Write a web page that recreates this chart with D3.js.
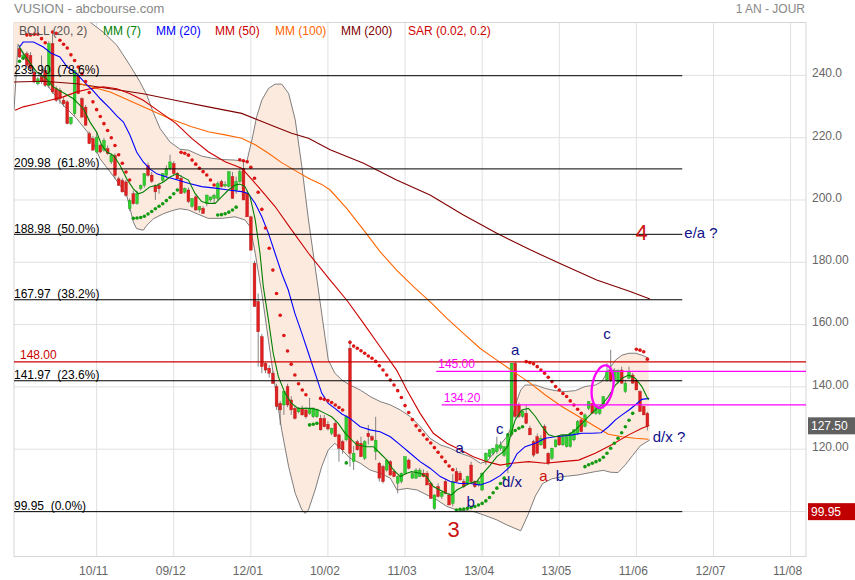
<!DOCTYPE html>
<html>
<head>
<meta charset="utf-8">
<script src="https://d3js.org/d3.v7.min.js"></script>
<style>
  body { margin: 0; background: #fff; }
  svg { font-family: "Liberation Sans", Arial, sans-serif; }
</style>
</head>
<body>
<svg width="855" height="580"></svg>
<script>
// daily bars, [open, high, low, close]
const ohlc = [
  [248.6,249.7,245.6,245.9],[245.4,247,245,246.4],[247,247.7,242.7,243.2],[246.4,247.5,241,242.2],
  [241.1,242,237.5,237.9],[237.3,239.5,236.8,238.9],[239.5,246.4,237.3,238],[241.6,242.5,236.3,236.8],
  [236.8,251,236,250.2],[250.2,253.9,234.1,234.7],[235.7,236.5,231.5,232],[235.2,236,230.9,232.5],
  [232,233,230,230.9],[231.5,232,224.3,224.5],[224.5,226.6,224,226.6],[227.7,241.6,227,241.6],
  [240,241,234,234.1],[232.5,233,226.6,226.6],[229.8,230.5,224,224],[221.3,222,218,218.1],
  [219.7,220.5,216,216],[215.4,222,215,220.2],[217.6,218,215,215.4],[216,220,215.5,219.1],
  [216.5,217.5,214.5,214.9],[212.2,215,211.5,214.3],[214.3,215,206.8,207.9],[206.8,207.5,204.5,204.7],
  [206.3,207,202.4,202.6],[205.8,206.5,201,201.5],[197.2,200.5,196.5,199.9],[202,203,198.5,198.8],
  [198.8,203,198.5,202],[203.6,205,203,204.7],[204.7,208.5,204,208.5],[211.1,212,207.5,207.9],
  [208,209,205.5,206],[204.7,205,200,202.6],[204.7,205.5,202,203.6],[206.3,208.5,205.5,208.5],
  [207.9,211.1,207,210.1],[210,214.5,209.5,212.2],[211.7,212.5,208,208.5],[208.6,209,206.5,206.8],
  [207,208,202,202.1],[202.5,204,202,203.7],[203.2,204,199,199.5],[197.9,200.5,197.5,200.5],
  [201,201.5,196.5,196.8],[196.8,197.9,196,197.9],[197.3,198,195.5,195.7],[198.9,201.6,198,201.6],
  [200,201,199.5,201],[200.5,202,199,201.5],[200.5,206,200,205.3],[205.9,206.5,204,204.3],
  [204.5,206,204,205],[204.3,209.1,204,209.1],[207.5,209,200.5,200.5],[203,207.5,202,205.9],
  [205.9,210,205.5,209.1],[210.2,212.8,200,200],[202.1,203,194.6,194.6],[194.6,195,183.9,183.9],
  [179.7,180.5,165.8,165.8],[167.4,170,146.5,157.7],[156.1,157,144.4,146.5],[147.6,148,144.4,145.4],
  [146,147,143,144.4],[144.4,145,141,141.1],[140.1,141,132.6,133.7],[134.7,135.5,127.8,132.6],
  [134.2,138.5,131,138.5],[140.1,141,133.5,134.2],[135.8,137,131,132.6],[133.1,134,129.5,129.9],
  [132,133.5,131.5,133.1],[133.1,134,130.8,131],[132.6,133.5,129.8,130.4],[131.5,136.5,131,133],
  [130.4,133.5,130,133.1],[130.4,133,130,132.6],[129.9,131,126,126.2],[129.9,131,127,127.2],
  [128,129,126,126.5],[125.1,126.9,124.5,126.7],[128.3,129,124,124],[124.6,125,116,120.3],
  [122.4,123,118.5,119.8],[123,131,122.5,130.4],[152.4,155,114.4,118.7],[116,121,113.3,118.7],
  [122.4,123,119.5,119.8],[121.9,124,117.5,117.6],[117.1,122.9,116.5,122.4],[125.1,127.8,121.5,124],
  [124,124.5,122.8,122.9],[119.2,130.4,116.5,122.9],[115.5,116,109.6,110.7],[114.4,115,109,109.6],
  [113.3,116.5,112.8,116.5],[116,116.5,111.5,111.7],[112.8,113.5,111,111.2],[109.1,111.5,105.8,111.2],
  [109.6,112.5,109,112.3],[112.3,117.6,112,117.6],[116.5,117,113.5,113.9],[110.7,112.5,110.5,112.2],
  [110.7,113.9,110.5,113.3],[111.2,114,111,113.3],[112.3,113.5,111,111.2],[112.3,113,108.5,108.5],
  [109.1,109.5,104.2,104.2],[101,105.5,100.5,105.3],[108,109,104.5,104.8],[104.8,106.5,104,106.2],
  [109.6,110.5,105.5,105.8],[105.3,106,102,102.1],[102.6,112,101.6,109.6],[112.8,114,109.5,109.6],
  [112.3,113,110,110.1],[109.6,110.5,107.5,108],[109.1,111.5,108.5,111.2],[114.9,116,109,109.6],
  [109.6,110,107.5,108],[108.5,110,108,109.6],[106.9,112.5,106.5,112.3],[116,119,115,118.7],
  [117.6,120,117,119.8],[118.7,120.5,118,120.3],[119.2,124,118.5,121.4],[120.3,122.5,119.5,121.4],
  [118,121,117.5,120.8],[114.4,125.1,112.3,124],[124.6,147.6,124,147.6],[147.6,148,130,130.5],
  [134.2,135,130,130.5],[130.5,132.6,130,132.1],[131.5,134.2,128,128.3],[126.7,127.5,124.5,124.6],
  [122.4,123,117.5,118.1],[124,125,118.5,118.7],[121.4,124.5,121,123.5],[127.3,128,120,120.3],
  [118.7,119,114.9,115.5],[117.1,120.5,116.5,120.3],[120.8,123,120.5,123],[124,124.5,121,121.4],
  [121.4,124.5,121,124],[120.8,124.5,120.5,124],[120.8,125.5,120.5,125.1],[123,126.5,122.5,126.2],
  [125.1,129.4,124.5,128.9],[129.4,130,125.5,125.6],[127.3,131.5,127,131],[133.1,135.5,132.5,135.3],
  [134.7,135,131.5,131.5],[131.5,134,131,134],[131.5,133.5,131,133.1],[133.7,137,133,136.9],
  [142.2,147.6,141.7,144.9],[145.4,151.9,141.5,142.2],[142.2,146,141.5,145.4],[141.7,145.5,141,145.4],
  [145.4,146.5,141,141.2],[138.5,142,138,141.2],[142.8,146.5,142.5,144.9],[143.8,144.5,141,141.2],
  [142.2,142.5,139,139],[138.5,139,132,132.1],[133.7,134,131,131],[131.5,132,126,127.5]
];

// parabolic SAR, runs of consecutive bars: 'g' below price, 'r' above
const sarRuns = [
  ['g', [244.5,245.5]],
  ['r', [253,253,253.2,253.2,251.8,250.5]],
  ['g', [237.3]],
  ['r', [253.9,253.5,251.3,250,248.8,246.6,244.8,242.7,240.5,238,234.5,231.5,229,226.8,224.5,222.3,220,217.5,214.5,211.8,209,206.4]],
  ['g', [194.1,194.2,194.4,194.8,195.5,196.3,197.2,198,198.8,199.8,200.8,202,203.2]],
  ['r', [215.3,215,214.4,212.8,211.5,210.2,209.1,208,206.4,204.8]],
  ['g', [195.2,195.3,195.6,196.1,196.8,197.7]],
  ['r', [212.9,212.6,212.3,210.5,207,202.5,197,191,184.5,177.5,170,163,156.5,151.5,147.3,143.8,141,139,137.5]],
  ['g', [127.8,128,128.3]],
  ['r', [136.3,136,135.6,135,134.2,133.4,132.6]],
  ['g', [115.6]],
  ['r', [154.3,153.1,152.4,151.6,150.8,149.9,149.2,148.2,146.8,145.4,143.8,142.2,140.6,138.8,136.6,134,131.8,129.5,127.5,126,124.6,123.2,122,120.5,119,117.5,116,114.6,113.4]],
  ['g', [100.5,100.7,100.8,101,101.3,101.6,102.1,102.6,103.4,104.5,106,107.5,109,110.7,124.6,125.3,126,126.7,127.2]],
  ['r', [148.1,147.8,147.4,146.5,145.4,144.4,143.1,141.7,140.1,139,137.9,136.9,135.5,134.2,132.8,131.5]],
  ['g', [114.4,115,115.5,116,116.5,117.4,118.7,120.3,121.9,123.5,125.3,127.2,129.3,131.5]],
  ['r', [152.1,151.8,151.3,148.9]]
];

// indicator lines, [bar index, value]
const mm7 = [[0,249.1],[2,245.4],[4.7,241.1],[7.4,238.9],[9.2,236.3],[12.4,234.1],[14.7,232.5],[17.4,229.3],[19.2,225],[21,221.8],[22.4,217.6],[23.8,215.4],[25.6,214.3],[27.4,211.1],[29.2,206.8],[31,203.6],[32.4,202],[33.7,202.6],[35.5,204.2],[37.4,204.7],[39.2,205.8],[41,207.4],[42.8,208.4],[44.2,207.5],[46,206.4],[47.8,202.1],[49.6,199.5],[51.4,198.9],[53.3,198.9],[55.1,201.1],[56.9,203.2],[58.7,204.8],[60,205.1],[61.4,204.3],[62.8,201.1],[64.2,193.6],[65.5,182.9],[66.4,172.2],[67.8,161.5],[69.1,150.8],[70.5,143.3],[72.3,138],[74.1,134.7],[75.9,133.1],[77.8,133.1],[79.6,133.1],[81.4,132.6],[83.2,131.5],[85,130.4],[86.8,128.3],[88.7,125.1],[91.8,121.4],[94.6,120.8],[96.4,120.8],[98.2,118.7],[100,116.6],[101.8,113.4],[103.7,111.2],[105.5,112.3],[106.8,112.8],[109.1,112.3],[110.9,111.2],[112.7,108],[114.5,106.9],[116.4,105.8],[117.7,105.3],[119.1,106.9],[120.9,108],[122.7,109.1],[124.5,109.6],[126.3,112.3],[128.2,114.9],[130,117.6],[131.8,119.2],[133,121],[134,125.5],[135,129.4],[136.8,132.6],[138.6,133.1],[140.5,130.5],[142.3,127.3],[144.1,124.6],[145.9,124],[147.7,124.6],[149.5,124.6],[151.4,126.2],[153.2,128.3],[155,130.5],[156.8,132.6],[158.6,134.2],[160.4,136.9],[162.3,140.6],[164.1,142.8],[165.9,143.8],[167.7,142.8],[169.5,140.1],[171.3,135.8]];
const mm20 = [[0,249.1],[1,250.7],[3.8,250.7],[6.5,249.1],[8.5,247.2],[11,245.9],[13,242.7],[15.6,240.5],[18.5,236.8],[20.1,235],[22,232.5],[24.7,229.3],[26.5,227],[28.3,225],[30.1,220.8],[31.9,215.4],[33.7,212.2],[35.5,210],[37.4,208.4],[40.1,207.4],[42.6,206.6],[46,205.4],[49.6,204.3],[53.3,203.8],[56.9,203.2],[60.5,202.7],[62.3,202.1],[64.2,198.9],[66,194.6],[67.8,189.3],[69.6,182.9],[71.4,176.5],[73.2,171.1],[75,163.6],[76.9,157.2],[78.7,150.8],[80.5,144.4],[82.3,138],[84.1,134.7],[85.9,133.1],[87.8,131.3],[90,129.9],[92.8,127.2],[95.5,126.2],[98.2,125.6],[101,124],[103.7,121.4],[106.4,118.7],[109.1,116],[111.8,113.9],[114.6,111.2],[117.3,109.6],[120,109],[122.8,109],[125.5,108.5],[128.2,109.6],[130.9,111.5],[133.7,114.5],[135.5,118.5],[137.7,120.8],[140.5,121.9],[143.2,123.5],[145.9,124],[150.5,124.6],[153.2,125.1],[156,125.1],[158.4,125.3],[160.4,127.2],[162.3,129.4],[164.1,131],[166,132.6],[167.7,134.2],[169.5,136],[171.5,136.3]];
const mm50 = [[-1.2,228.8],[1,229.9],[4.7,230.9],[8.3,232],[11.9,233.1],[15.6,234.7],[19.2,235.7],[22.8,236.3],[26.5,235.7],[30.1,234.1],[33.7,232],[38.3,228.2],[42.6,224.6],[46.9,219.8],[51.4,215.5],[56,212.3],[60.5,210.2],[65,204.3],[69.6,197.9],[74.1,190.4],[78.7,182.9],[84.6,174.3],[89.1,167.9],[93.7,160.4],[98.2,152.9],[102.7,145.4],[105.5,139],[109.1,131.5],[112.7,125.1],[116.4,121.9],[120,119.8],[123.6,117.6],[127.3,116],[130.9,114.9],[134.1,115.5],[138.6,116],[143.2,115.5],[147.7,116],[152.3,116.5],[156.8,118.7],[161.3,121.4],[165.9,124.6],[169.5,126.7],[171.5,127.6]];
const mm100 = [[16.5,237.3],[24.7,234.7],[33.7,229.9],[41,226.1],[46.9,223.5],[51.4,221.9],[56,220.9],[60.5,219.8],[64.2,217.7],[67.8,215],[71.4,212],[75,209.5],[78.7,207],[82.3,205],[84.6,203.2],[89.1,197.3],[93.7,190.4],[98.2,183.4],[102.7,177.5],[107.3,172.2],[111.8,167.4],[116.4,162],[120.9,157.2],[125.4,152.4],[130,148.6],[134.5,144.9],[139.1,141.2],[143.2,137.4],[147.7,133.7],[152.3,130.5],[156.8,127.3],[160.4,124.8],[164.1,124],[167.7,123.5],[171.3,123.2]];
const mm200 = [[-1.5,237.9],[6.5,238.1],[15.6,237.3],[24.7,235.7],[33.7,234.1],[43.7,231.7],[51.4,229.9],[60.5,227.8],[65,225.7],[69.6,223.5],[74.1,221.4],[78.7,219.8],[84.6,216.1],[93.7,211.8],[102.7,206.4],[111.8,201.6],[120.9,195.2],[130,189.3],[139.1,184],[148.1,179.1],[157.2,174.3],[166.3,170.6],[171.7,168.2]];
const bollUpper = [[-1.5,258],[5,258.5],[12,262],[17,259.5],[19.2,257.1],[22.8,253.9],[26.5,249.7],[30.1,243.2],[32.8,237.9],[34.7,233.6],[36.4,228.2],[38.3,222.9],[41,218.6],[43.7,216.3],[46,216],[49.6,214.1],[52.4,213.4],[55.1,213],[58.7,212.8],[61.9,212.3],[63.3,219.3],[64.6,226.8],[66,232.1],[67.8,235.8],[69.6,237.2],[71.4,237.2],[73.3,234.2],[75.1,225.7],[76.9,210.7],[78.7,193.6],[80.5,178.6],[82.3,163.6],[84.1,148.6],[85.9,144.4],[87.8,142.2],[90,140.6],[92.8,139],[95.5,136.9],[98.2,135.3],[101,134.2],[103.7,132.6],[106.4,130.5],[109.1,127.3],[111.8,123.5],[114.6,121.4],[117.3,120.3],[120,118.7],[122.8,117.6],[125.5,115.5],[127.3,116],[129.1,118.7],[130.9,121.4],[132.7,124],[133.6,126.2],[135,134],[136.5,139],[137.7,140.6],[140.5,140.6],[143.2,139.5],[145.9,138.8],[148.6,138.5],[151.4,138.8],[154,140.1],[156.8,140.6],[158.6,141.7],[160.4,145.4],[162.3,148.6],[164.1,150.2],[166,150.8],[167.7,150.8],[169.5,150.2],[171.3,149.2]];
const bollLower = [[-1.5,228.8],[-0.4,250],[2,244.3],[4.7,241.1],[8.3,235.7],[11.9,230.4],[15.6,226.1],[19.2,220.8],[21.9,213.3],[24.7,209],[27.4,204.7],[29.2,201.5],[30.1,197.2],[31,192.9],[31.9,190.8],[33.7,190.3],[34.7,191.9],[36.5,194],[39.2,195.6],[41.9,196.7],[43.7,197.2],[46,196.8],[48.5,195.5],[51.4,194.1],[55.1,194.1],[58.7,194.6],[61.4,193.6],[62.8,191.4],[64.2,182.9],[66,170],[67.8,155],[69.6,140.1],[71.4,126.2],[73.3,114.4],[75.1,105.8],[76.9,100.5],[77.8,99.4],[78.7,100.5],[80.5,106.9],[82.3,114.4],[84.1,119.8],[85.9,121.9],[87.8,119.8],[90,117.1],[92.8,115.5],[95.5,113.3],[98.2,112.3],[101,110.7],[102.8,106.9],[105.5,107.4],[108.3,106.9],[111,105.3],[113.7,103.7],[116.4,101.6],[119.1,100.5],[123.6,100],[126.4,98.9],[130,97.3],[132.7,95.7],[134.5,94.8],[136.5,93.8],[138.5,99],[140.5,105],[142.5,109],[145,110.5],[148,111.2],[152,111.7],[156.8,112.8],[159,113.2],[161,112.6],[163,112.5],[165,115],[167,118],[169,121],[171.7,123]];

// axes
const xTicks = [21, 42, 63, 84, 105, 126, 147, 168, 189, 210];
const xTickLabels = ['10/11', '09/12', '12/01', '10/02', '11/03', '13/04', '13/05', '11/06', '12/07', '11/08'];
const yGrid = [100, 120, 140, 160, 180, 200, 220, 240];
const yTicks = [240, 220, 200, 180, 160, 140, 120];
const yTickLabels = ['240.0', '220.0', '200.0', '180.00', '160.00', '140.00', '120.00'];

// retracement levels and drawn levels
const fibValues = [239.90, 209.98, 188.98, 167.97, 141.97, 99.95];
const fibLabels = ['239.90  (78.6%)', '209.98  (61.8%)', '188.98  (50.0%)', '167.97  (38.2%)', '141.97  (23.6%)', '99.95  (0.0%)'];
const fibEnd = 180.5;
const levelValues = [148.00, 145.00, 134.20];
const levelStarts = [-1.5, 113.5, 115];
const levelColors = ['#cc0000', '#ff00ff', '#ff00ff'];

// wave labels: text, bar index, value
const waveText = ['a', 'a', 'b', 'c', 'd/x', 'a', 'b', 'c', 'd/x ?', 'e/a ?', '4', '3'];
const waveIndex = [135, 119.9, 122.9, 130.8, 134.1, 142.7, 147.2, 160, 176.9, 185.6, 169.4, 118.2];
const waveValue = [152.0, 120.7, 103.3, 126.8, 109.6, 111.4, 111.6, 157, 124, 189.6, 189.7, 94.2];

const legendNames = ['BOLL (20, 2)', 'MM (7)', 'MM (20)', 'MM (50)', 'MM (100)', 'MM (200)', 'SAR (0.02, 0.2)'];
const legendColors = ['#555555', '#008000', '#0000ff', '#cc0000', '#ff6600', '#800000', '#cc0000'];

const lastClose = 127.50;
const lowestLow = 99.95;

const svg = d3.select('svg');
const plot = { left: 14, right: 806, top: 22.5, bottom: 556.5 };
const x = d3.scaleLinear().domain([-1.5, 214.2]).range([plot.left, plot.right]);
const y = d3.scaleLinear().domain([85.55, 256.98]).range([plot.bottom, plot.top]);

svg.append('defs').append('clipPath').attr('id', 'plotclip')
  .append('rect')
  .attr('x', plot.left).attr('y', plot.top)
  .attr('width', plot.right - plot.left).attr('height', plot.bottom - plot.top);

// grid
let grid = svg.append('g');
grid.selectAll('line.h').data(yGrid).join('line')
  .attr('x1', plot.left).attr('x2', plot.right)
  .attr('y1', d => y(d)).attr('y2', d => y(d))
  .attr('stroke', '#e0e0e0');
grid.selectAll('line.v').data(xTicks).join('line')
  .attr('y1', plot.top).attr('y2', plot.bottom)
  .attr('x1', d => x(d)).attr('x2', d => x(d))
  .attr('stroke', '#e0e0e0');
svg.append('rect')
  .attr('x', plot.left).attr('y', plot.top)
  .attr('width', plot.right - plot.left).attr('height', plot.bottom - plot.top)
  .attr('fill', 'none').attr('stroke', '#d6d6d6');

let chart = svg.append('g').attr('clip-path', 'url(#plotclip)');

// bollinger band
const line = d3.line().x(d => x(d[0])).y(d => y(d[1]));
chart.append('path')
  .attr('d', line(bollUpper.concat(bollLower.slice().reverse())) + 'Z')
  .attr('fill', '#fdeadf');
[bollUpper, bollLower].forEach(b => {
  chart.append('path').attr('d', line(b))
    .attr('fill', 'none').attr('stroke', '#6f6f6f').attr('stroke-width', 0.9);
});

// candles
let candles = chart.append('g');
candles.selectAll('line').data(ohlc).join('line')
  .attr('x1', (d, i) => x(i)).attr('x2', (d, i) => x(i))
  .attr('y1', d => y(d[1])).attr('y2', d => y(d[2]))
  .attr('stroke', '#666').attr('stroke-width', 0.8);
candles.selectAll('rect').data(ohlc).join('rect')
  .attr('x', (d, i) => x(i) - 1.4)
  .attr('width', 2.8)
  .attr('y', d => y(Math.max(d[0], d[3])))
  .attr('height', d => Math.max(1, Math.abs(y(d[0]) - y(d[3]))))
  .attr('fill', d => d[3] >= d[0] ? '#2fd12f' : '#e02020')
  .attr('stroke', d => d[3] >= d[0] ? '#1d9a1d' : '#b01515')
  .attr('stroke-width', 0.4);

// moving averages
[[mm200, '#800000'], [mm100, '#ff6600'], [mm50, '#cc0000'], [mm20, '#0000ff'], [mm7, '#008000']]
  .forEach(([pts, col]) => {
    chart.append('path').attr('d', line(pts))
      .attr('fill', 'none').attr('stroke', col).attr('stroke-width', 1.1);
  });

// SAR dots
let sar = [];
sarRuns.forEach(([side, vals]) => vals.forEach(v => sar.push({ side, v })));
chart.append('g').selectAll('circle').data(sar).join('circle')
  .attr('cx', (d, i) => x(i)).attr('cy', d => y(d.v))
  .attr('r', 1.8)
  .attr('fill', d => d.side === 'g' ? '#129a12' : '#dd1515');

// retracement lines
let fib = svg.append('g');
fib.selectAll('line').data(fibValues).join('line')
  .attr('x1', plot.left).attr('x2', x(fibEnd))
  .attr('y1', d => y(d)).attr('y2', d => y(d))
  .attr('stroke', '#000').attr('stroke-width', 1);
fib.selectAll('text').data(fibLabels).join('text')
  .attr('x', plot.left).attr('y', (d, i) => y(fibValues[i]) - 1.5)
  .attr('font-size', 12).attr('fill', '#000')
  .style('white-space', 'pre')
  .text(d => d);

// drawn levels
let lv = svg.append('g');
lv.selectAll('line').data(levelValues).join('line')
  .attr('x1', (d, i) => x(levelStarts[i])).attr('x2', plot.right)
  .attr('y1', d => y(d)).attr('y2', d => y(d))
  .attr('stroke', (d, i) => levelColors[i]).attr('stroke-width', 1.2);
lv.selectAll('text').data(levelValues).join('text')
  .attr('x', (d, i) => x(levelStarts[i]) + (i === 0 ? 6 : 2))
  .attr('y', d => y(d) - 3)
  .attr('font-size', 12)
  .attr('fill', (d, i) => levelColors[i])
  .text(d => d.toFixed(2));

// circled zone
svg.append('ellipse')
  .attr('transform', `translate(${x(158.8)},${y(140.1)}) rotate(10)`)
  .attr('rx', 10.5).attr('ry', 21.5)
  .attr('fill', 'none').attr('stroke', '#ff00ff').attr('stroke-width', 2.3);

// wave labels
svg.append('g').selectAll('text').data(waveText).join('text')
  .attr('x', (d, i) => x(waveIndex[i])).attr('y', (d, i) => y(waveValue[i]))
  .attr('text-anchor', 'middle').attr('dominant-baseline', 'central')
  .attr('font-size', d => (d === '3' || d === '4') ? 22 : 15)
  .attr('fill', (d, i) => (d === '3' || d === '4' || i === 5) ? '#cc1111' : '#10108a')
  .text(d => d);

// axes
let xAxis = svg.append('g').attr('transform', `translate(0,${plot.bottom})`)
  .call(d3.axisBottom(x).tickValues(xTicks).tickFormat((d, i) => xTickLabels[i]).tickSize(0).tickPadding(10));
xAxis.select('.domain').remove();
xAxis.selectAll('text').attr('dx', -3.5).attr('fill', '#666')
  .attr('font-size', 12).attr('font-family', '"Liberation Sans", Arial, sans-serif');

let yAxis = svg.append('g').attr('transform', `translate(${plot.right},0)`)
  .call(d3.axisRight(y).tickValues(yTicks).tickFormat((d, i) => yTickLabels[i]).tickSize(0).tickPadding(6));
yAxis.select('.domain').remove();
yAxis.selectAll('text').attr('y', -2.5).attr('fill', '#666')
  .attr('font-size', 12).attr('font-family', '"Liberation Sans", Arial, sans-serif');

// price boxes
[[lastClose, '#606060'], [lowestLow, '#c00000']].forEach(([v, col]) => {
  svg.append('rect').attr('x', 808).attr('y', y(v) - 8.5)
    .attr('width', 47).attr('height', 17).attr('fill', col);
  svg.append('text').attr('x', 811).attr('y', y(v))
    .attr('dominant-baseline', 'central').attr('font-size', 12).attr('fill', '#fff')
    .text(v.toFixed(2));
});

// legend
let lx = [19, 103, 156, 215, 275, 341, 408];
svg.append('g').selectAll('text').data(legendNames).join('text')
  .attr('x', (d, i) => lx[i]).attr('y', 35)
  .attr('font-size', 12)
  .attr('fill', (d, i) => legendColors[i])
  .text(d => d);

// header
svg.append('text').attr('x', 14).attr('y', 13).attr('font-size', 13).attr('fill', '#888')
  .text('VUSION - abcbourse.com');
svg.append('text').attr('x', 805).attr('y', 13).attr('font-size', 12).attr('fill', '#888')
  .attr('text-anchor', 'end').text('1 AN - JOUR');
</script>
</body>
</html>
